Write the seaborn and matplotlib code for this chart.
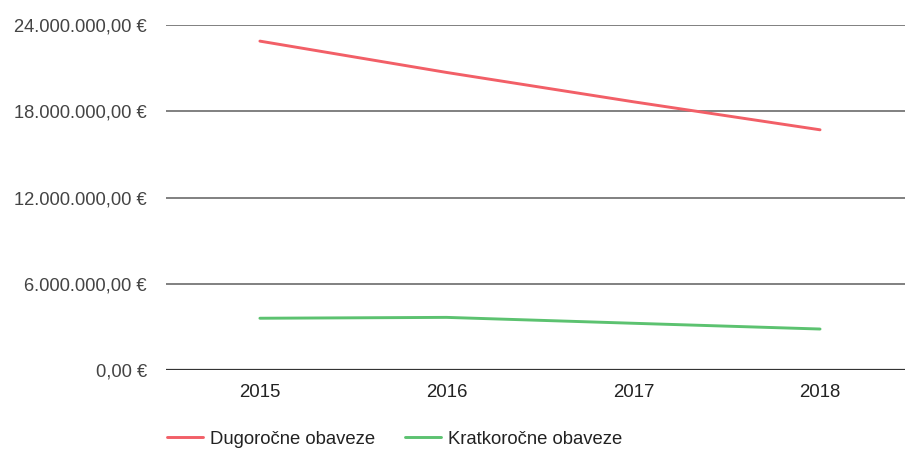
import matplotlib
matplotlib.use("Agg")
import matplotlib.pyplot as plt
import seaborn as sns
import pandas as pd
from matplotlib.ticker import FuncFormatter

years = ["2015", "2016", "2017", "2018"]
dugorocne = [22880000, 20700000, 18660000, 16710000]
kratkorocne = [3600000, 3660000, 3250000, 2850000]
series_names = ["Dugoročne obaveze", "Kratkoročne obaveze"]
colors = ["#f25f67", "#5cc270"]

df = pd.DataFrame({
    "year": years * 2,
    "value": dugorocne + kratkorocne,
    "series": [series_names[0]] * 4 + [series_names[1]] * 4,
})

sns.set_style("white")
plt.rcParams["font.family"] = ["Liberation Sans", "DejaVu Sans"]

fig = plt.figure(figsize=(9.05, 4.5), dpi=100)
ax = fig.add_axes([0.1834, 0.1778, 0.8166, 0.7666])

sns.lineplot(data=df, x="year", y="value", hue="series", palette=colors,
             linewidth=2.1, ax=ax, legend=False, sort=False)


def euro(v, pos):
    s = f"{v:,.2f}".replace(",", "X").replace(".", ",").replace("X", ".")
    return s + " €"


ax.set_ylim(0, 24000000)
ax.set_yticks([0, 6000000, 12000000, 18000000, 24000000])
ax.yaxis.set_major_formatter(FuncFormatter(euro))
ax.set_xlim(-0.503, 3.455)
ax.set_xlabel("")
ax.set_ylabel("")

ax.grid(axis="y", color="#808080", linewidth=1.4)
ax.grid(axis="x", visible=False)
ax.axhline(0, color="#333333", linewidth=1.6, zorder=3)
for s in ax.spines.values():
    s.set_visible(False)
ax.tick_params(axis="y", length=0, pad=13.7, labelsize=13.2, labelcolor="#444444")
ax.tick_params(axis="x", length=0, pad=10, labelsize=13.4, labelcolor="#222222")

handles = [plt.Line2D([], [], color=c, linewidth=2.1) for c in colors]
fig.legend(handles, series_names, loc="center left", bbox_to_anchor=(0.1845, 0.0244),
           ncol=2, frameon=False, fontsize=13.3, handlelength=1.95,
           handletextpad=0.4, columnspacing=1.6, borderpad=0, borderaxespad=0,
           labelcolor="#222222")

fig.savefig("out.png", dpi=100)
